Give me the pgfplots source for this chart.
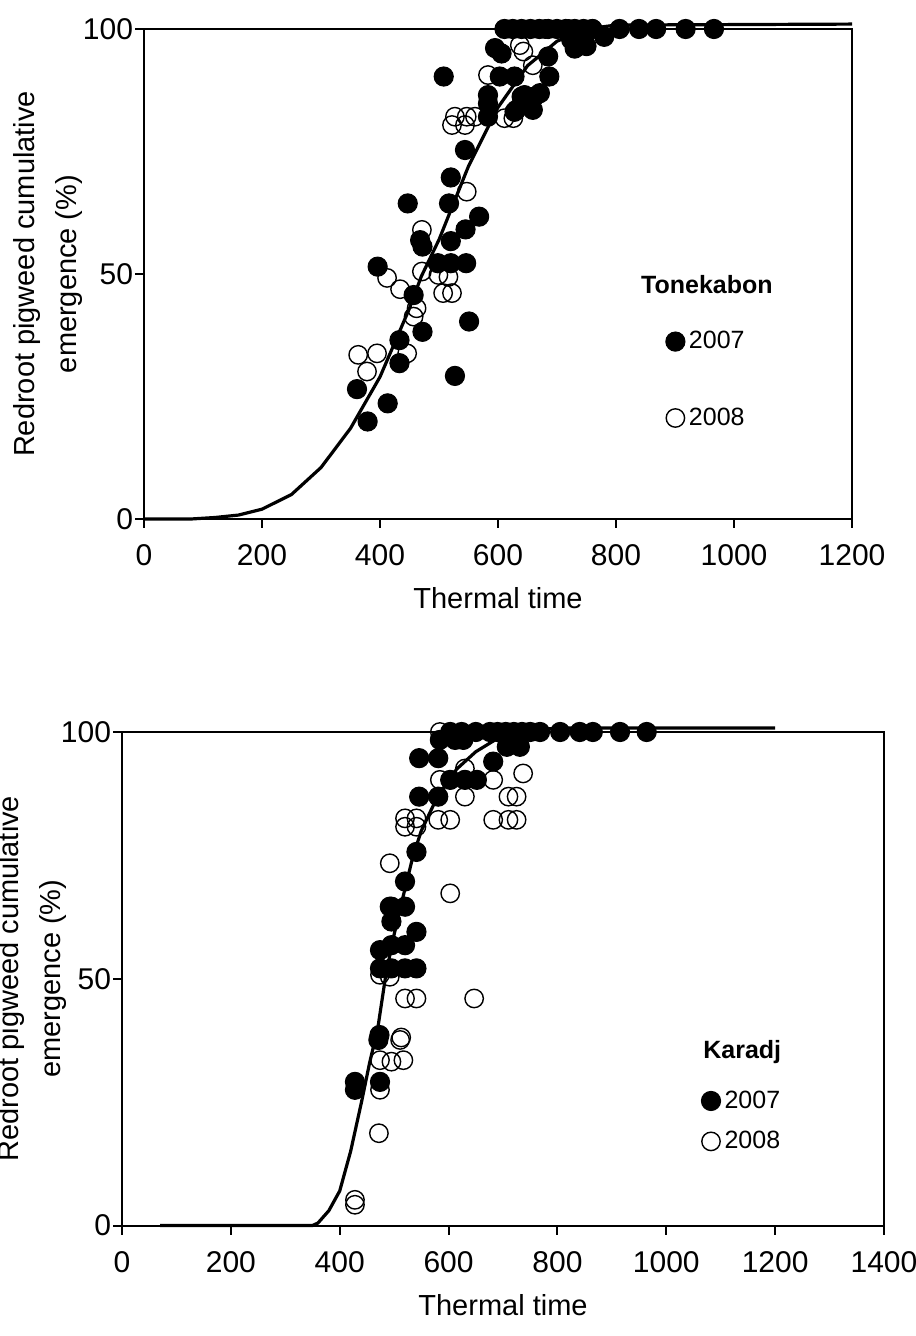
\documentclass[border=0pt]{standalone}
\usepackage{pgfplots}
\pgfplotsset{compat=1.18}
\usepackage{fontspec}
\setmainfont{Liberation Sans}

% data: thermal time vs cumulative emergence (%)
\pgfplotstableread{
x y
0 0
80 0
120 0.3
160 0.8
200 2
250 5
300 10.5
350 18.5
400 29
450 43
470 49.5
500 57
550 72
600 84
650 92.5
700 97.5
750 100
800 100.8
1200 101
}\tonefit
\pgfplotstableread{
x y
361 26.5
379 19.9
396 51.5
413 23.6
433 31.8
433 36.5
447 64.4
457 45.7
468 56.9
472 55.6
472 38.2
498 52.2
508 90.3
517 64.4
520 69.7
520 56.7
520 52.2
527 29.2
544 75.3
545 59.1
546 52.2
551 40.3
568 61.7
583 86.5
583 84.8
583 82.1
595 96.1
603 90.3
606 95
628 90.3
628 83.1
631 83.5
640 86.2
645 86.5
659 83.5
662 86.2
671 86.9
685 94.4
687 90.3
724 97.8
735 97
730 96
750 96.5
780 98.4
611 100
625 100
640 100
655 100
670 100
685 100
700 100
715 100
730 100
745 100
760 100
806 100
839 100
868 100
918 100
966 100
}\toneA
\pgfplotstableread{
x y
363 33.5
378 30.1
395 33.8
412 49.2
434 46.9
446 33.8
457 41.3
462 43
471 59
471 50.5
499 49.8
507 46.1
516 49.4
522 46.1
522 80.4
527 82.1
544 80.4
547 82.1
547 66.8
561 82.1
583 90.6
611 81.8
626 81.8
637 96.7
643 95.4
659 92.6
680 100
720 100
760 100
}\toneB
\pgfplotstableread{
x y
70 0
350 0
360 0.5
380 3
400 7
420 15
440 25
455 33
470 40
485 51
500 59
515 66
535 75
550 80
580 87
615 92.5
650 96
690 98.7
750 100.3
800 100.8
1200 100.8
}\karfit
\pgfplotstableread{
x y
428 29.1
428 27.5
474 29.1
471 37.6
473 38.6
474 55.8
474 52.1
492 64.6
495 64.6
495 61.6
495 56.8
495 52.1
520 69.7
520 64.6
520 56.8
520 52.1
541 75.7
541 59.5
541 52.1
546 94.7
546 86.9
581 94.7
581 86.9
584 98.4
603 100
612 98.4
624 100
627 98.4
603 90.3
630 90.3
652 90.3
682 94
707 97
731 97
713 97.4
650 100
676 100
690 100
705 100
720 100
735 100
750 100
768 100
805 100
841 100
865 100
915 100
964 100
}\karA
\pgfplotstableread{
x y
428 5.2
428 4.2
472 18.7
474 27.5
474 33.5
495 33.2
517 33.5
511 37.6
513 38.1
474 50.8
492 50.4
520 46
541 46
647 46
603 67.3
492 73.4
520 82.5
541 82.5
520 80.8
541 80.8
581 82.2
603 82.2
682 82.2
710 82.2
725 82.2
584 90.3
630 86.9
710 86.9
725 86.9
682 90.3
630 92.6
737 91.6
584 100
}\karB

\pgfplotsset{
  every axis/.append style={
    scale only axis,
    clip=false,
    axis line style={line width=1bp},
    tick style={black, line width=1bp},
    major tick length=4.5bp,
    tick align=outside,
    xtick pos=bottom,
    ytick pos=left,
    ymin=0, ymax=100,
    ytick={0,50,100},
    /pgf/number format/assume math mode=true,
    /pgf/number format/set thousands separator={},
    tick label style={font=\fontsize{15bp}{17bp}\selectfont},
    xticklabel style={yshift=-5bp},
    yticklabel style={xshift=2.5bp},
    label style={font=\fontsize{14.5bp}{21bp}\selectfont},
    ylabel={Redroot pigweed cumulative\\emergence (\%)},
    xlabel={Thermal time},
    legend style={draw=none, fill=none, font=\fontsize{12.5bp}{14bp}\selectfont,
      legend cell align=left},
    legend image code/.code={\draw[mark repeat=2,mark phase=2,#1]
      plot coordinates {(0bp,0bp) (5bp,0bp) (10bp,0bp)};},
  },
  fitline/.style={black, line width=1.6bp, no markers},
  yr07/.style={only marks, mark=*, mark size=4.8bp,
    mark options={fill=black, draw=black, line width=0.5bp}},
  yr08/.style={only marks, mark=o, mark size=4.6bp,
    mark options={draw=black, line width=0.7bp}},
}

\begin{document}
\begin{tikzpicture}
\begin{axis}[
  at={(72bp,408.5bp)}, anchor=south west,
  width=354bp, height=245bp,
  xmin=0, xmax=1200, xtick={0,200,...,1200},
  ylabel style={align=center, at={(axis description cs:-0.1356,0.5)}, anchor=center},
  xlabel style={at={(axis description cs:0.5,0)}, anchor=center, yshift=-39.5bp},
  legend style={at={(axis description cs:0.728,0.40)}, anchor=north west,
    row sep=24bp},
]
\addplot[fitline, forget plot] table {\tonefit};
\addplot[yr07] table {\toneA};
\addplot[yr08] table {\toneB};
\legend{2007, 2008}
\node[font=\fontsize{12.5bp}{14bp}\selectfont\bfseries] at (axis description cs:0.795,0.478) {Tonekabon};
\end{axis}

\begin{axis}[
  at={(61bp,55.25bp)}, anchor=south west,
  width=381bp, height=246.75bp,
  xmin=0, xmax=1400, xtick={0,200,...,1400},
  ylabel style={align=center, at={(axis description cs:-0.118,0.5)}, anchor=center},
  xlabel style={at={(axis description cs:0.5,0)}, anchor=center, yshift=-39.75bp},
  legend style={at={(axis description cs:0.752,0.29)}, anchor=north west,
    row sep=6bp},
]
\addplot[fitline, forget plot] table {\karfit};
\addplot[yr07] table {\karA};
\addplot[yr08] table {\karB};
\legend{2007, 2008}
\node[font=\fontsize{12.5bp}{14bp}\selectfont\bfseries] at (axis description cs:0.814,0.351) {Karadj};
\end{axis}
\pgfresetboundingbox
\useasboundingbox (0,0) rectangle (458bp,668bp);
\end{tikzpicture}
\end{document}
